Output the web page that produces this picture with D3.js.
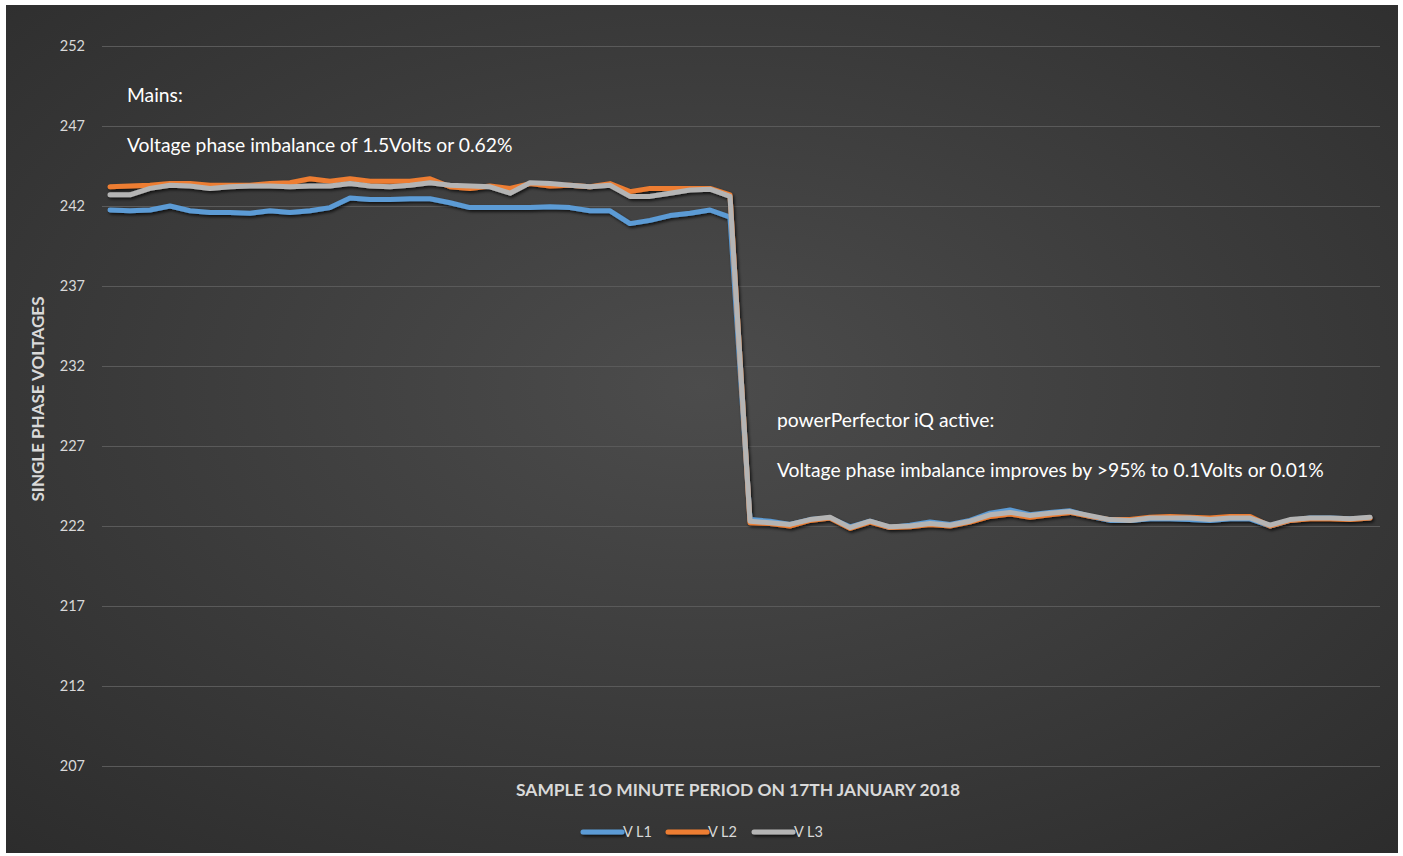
<!DOCTYPE html>
<html>
<head>
<meta charset="utf-8">
<script src="https://cdn.jsdelivr.net/npm/d3@7"></script>
<style>
html,body{margin:0;padding:0;background:#fff;}
svg{display:block;}
</style>
</head>
<body>
<svg id="chart" width="1403" height="856"></svg>
<script>
// ---- data ----
const seriesNames = ["V L1", "V L2", "V L3"];
const seriesColors = ["#5b9bd5", "#ed7d31", "#b4b4b4"];
const yTicks = [207, 212, 217, 222, 227, 232, 237, 242, 247, 252];

const vL1 = [241.75,241.7,241.75,242.0,241.7,241.6,241.6,241.55,241.7,241.6,241.7,241.9,242.5,242.4,242.4,242.45,
             242.45,242.2,241.9,241.9,241.9,241.9,241.95,241.9,241.7,241.7,240.9,241.1,241.4,241.55,241.75,241.3,
             222.4,222.3,222.1,222.4,222.5,221.95,222.3,221.9,222.05,222.25,222.1,222.35,222.8,223.0,222.7,222.85,
             222.95,222.6,222.35,222.35,222.45,222.45,222.4,222.35,222.45,222.45,222.0,222.35,222.5,222.5,222.45,222.5];
const vL2 = [243.2,243.25,243.3,243.4,243.4,243.3,243.3,243.3,243.4,243.45,243.7,243.55,243.7,243.55,243.55,243.55,
             243.7,243.2,243.1,243.25,243.1,243.4,243.25,243.3,243.2,243.4,242.9,243.1,243.1,243.1,243.1,242.7,
             222.2,222.15,222.0,222.35,222.5,221.85,222.25,221.9,221.95,222.1,222.0,222.25,222.6,222.75,222.55,222.7,
             222.85,222.6,222.4,222.4,222.55,222.6,222.55,222.5,222.6,222.6,222.0,222.35,222.45,222.45,222.4,222.5];
const vL3 = [242.7,242.7,243.1,243.3,243.25,243.1,243.2,243.25,243.25,243.2,243.25,243.25,243.4,243.25,243.2,243.3,
             243.45,243.3,243.25,243.2,242.8,243.45,243.4,243.3,243.2,243.3,242.6,242.6,242.8,243.0,243.05,242.6,
             222.3,222.2,222.1,222.4,222.55,221.9,222.3,221.95,222.0,222.15,222.05,222.3,222.7,222.85,222.65,222.8,
             222.9,222.65,222.4,222.35,222.5,222.5,222.5,222.4,222.5,222.5,222.05,222.4,222.5,222.5,222.45,222.55];

const yTitle = "SINGLE PHASE VOLTAGES";
const xTitle = "SAMPLE 1O MINUTE PERIOD ON 17TH JANUARY 2018";
const note1a = "Mains:";
const note1b = "Voltage phase imbalance of 1.5Volts or 0.62%";
const note2a = "powerPerfector iQ active:";
const note2b = "Voltage phase imbalance improves by >95% to 0.1Volts or 0.01%";

// ---- drawing ----
const svg = d3.select("#chart");
const defs = svg.append("defs");
const grad = defs.append("radialGradient").attr("id", "bg")
  .attr("cx", "50%").attr("cy", "45%").attr("r", "75%");
grad.append("stop").attr("offset", "0%").attr("stop-color", "#4c4c4c");
grad.append("stop").attr("offset", "100%").attr("stop-color", "#2c2c2c");
const filt = defs.append("filter").attr("id", "shadow")
  .attr("filterUnits", "userSpaceOnUse")
  .attr("x", 0).attr("y", 0).attr("width", 1403).attr("height", 856);
filt.append("feDropShadow").attr("dx", 1.5).attr("dy", 2).attr("stdDeviation", 1.5)
  .attr("flood-color", "#000").attr("flood-opacity", 0.7);

svg.append("rect").attr("x", 6).attr("y", 5).attr("width", 1392).attr("height", 848)
  .attr("fill", "url(#bg)");

const n = vL1.length;
const x = d3.scalePoint().domain(d3.range(n)).range([100, 1380]).padding(0.5);
const y = d3.scaleLinear().domain([207, 252]).range([766, 46]);

const font = "Lato, 'Open Sans', sans-serif";

// gridlines
svg.append("g").selectAll("line").data(yTicks).join("line")
  .attr("x1", 102).attr("x2", 1380)
  .attr("y1", d => y(d) + 0.5).attr("y2", d => y(d) + 0.5)
  .attr("stroke", "#5a5a5a").attr("stroke-width", 1);

// y axis labels
const yAxis = d3.axisLeft(y).tickValues(yTicks).tickSize(0).tickPadding(0);
const gy = svg.append("g").attr("transform", "translate(85,0)").call(yAxis);
gy.select(".domain").remove();
gy.selectAll("text").attr("fill", "#d9d9d9").attr("font-family", font)
  .attr("font-size", 14.5).attr("text-anchor", "end");

// y title
svg.append("text").attr("transform", "translate(44,399) rotate(-90)")
  .attr("text-anchor", "middle").attr("fill", "#d9d9d9")
  .attr("font-family", font).attr("font-weight", "bold").attr("font-size", 17)
  .text(yTitle);

// x title
svg.append("text").attr("x", 738).attr("y", 796)
  .attr("text-anchor", "middle").attr("fill", "#d9d9d9")
  .attr("font-family", font).attr("font-weight", "bold").attr("font-size", 17.4)
  .text(xTitle);

// lines
const series = [vL1, vL2, vL3];
const line = d3.line().x((d, i) => x(i)).y(d => y(d));
const gl = svg.append("g").attr("filter", "url(#shadow)");
series.forEach((s, k) => {
  gl.append("path").datum(s).attr("d", line)
    .attr("fill", "none").attr("stroke", seriesColors[k]).attr("stroke-width", 5)
    .attr("stroke-linejoin", "round").attr("stroke-linecap", "round");
});

// annotations
const ann = [[note1a, 127, 102], [note1b, 127, 152], [note2a, 777, 427], [note2b, 777, 477]];
svg.append("g").selectAll("text").data(ann).join("text")
  .attr("x", d => d[1]).attr("y", d => d[2])
  .attr("fill", "#ffffff").attr("font-family", font).attr("font-size", 19.3)
  .text(d => d[0]);

// legend
const legX = [583, 668, 754];
const lg = svg.append("g").attr("filter", "url(#shadow)");
seriesNames.forEach((name, k) => {
  lg.append("line").attr("x1", legX[k]).attr("x2", legX[k] + 39)
    .attr("y1", 832).attr("y2", 832)
    .attr("stroke", seriesColors[k]).attr("stroke-width", 5).attr("stroke-linecap", "round");
});
seriesNames.forEach((name, k) => {
  svg.append("text").attr("x", legX[k] + 40).attr("y", 837)
    .attr("fill", "#d9d9d9").attr("font-family", font).attr("font-size", 14.5)
    .text(name);
});
</script>
</body>
</html>
